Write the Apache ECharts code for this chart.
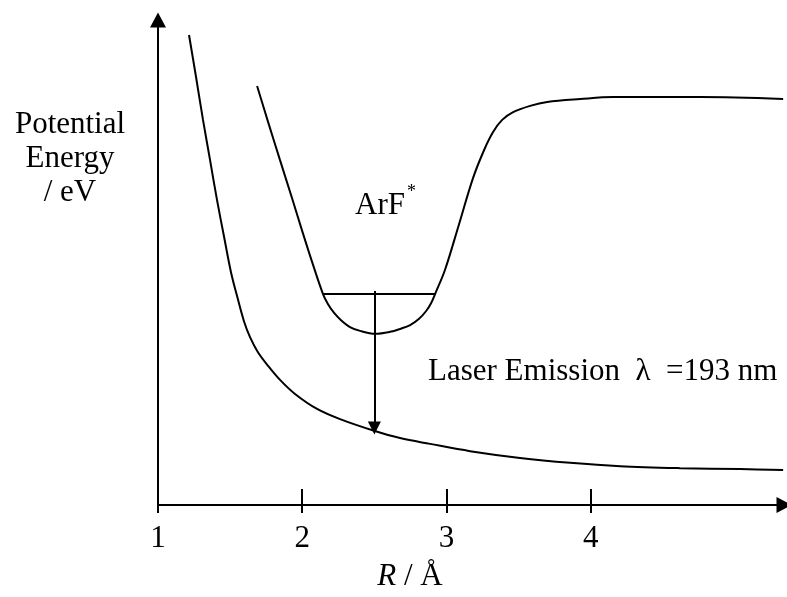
<!DOCTYPE html>
<html>
<head>
<meta charset="utf-8">
<title>ArF excimer potential energy curves</title>
<script src="https://cdn.jsdelivr.net/npm/echarts@6/dist/echarts.min.js"></script>
<style>
  html, body { margin: 0; padding: 0; background: #fff; }
  #chart { width: 787px; height: 597px; }
</style>
</head>
<body>
<div id="chart"></div>
<script>
// Internuclear distance R (Å) and potential energy (arbitrary eV scale)
const groundR = [1.215, 1.264, 1.312, 1.361, 1.409, 1.458, 1.506, 1.555, 1.596, 1.638, 1.693, 1.763, 1.846, 1.950, 2.103, 2.262, 2.498, 2.678, 2.886, 3.164, 3.510, 3.857, 4.204, 4.620, 5.036, 5.334];
const groundE = [9.69, 8.82, 7.94, 7.11, 6.29, 5.53, 4.80, 4.23, 3.79, 3.46, 3.15, 2.87, 2.58, 2.29, 1.98, 1.77, 1.53, 1.38, 1.26, 1.11, 0.97, 0.87, 0.80, 0.76, 0.74, 0.72];

const excitedR = [1.687, 1.763, 1.846, 1.929, 2.006, 2.075, 2.144, 2.179, 2.221, 2.269, 2.331, 2.401, 2.505, 2.609, 2.678, 2.748, 2.810, 2.859, 2.893, 2.921, 2.990, 3.087, 3.184, 3.261, 3.323, 3.386, 3.462, 3.580, 3.698, 3.927, 4.155, 4.759, 5.334];
const excitedE = [8.64, 7.90, 7.11, 6.33, 5.59, 4.95, 4.35, 4.14, 3.96, 3.81, 3.67, 3.59, 3.53, 3.57, 3.63, 3.71, 3.84, 4.00, 4.16, 4.35, 4.85, 5.79, 6.74, 7.32, 7.69, 7.94, 8.10, 8.23, 8.31, 8.37, 8.41, 8.41, 8.37];

// Vibrational level of ArF* and the emission transition
const levelR = [2.144, 2.921];
const levelE = [4.35, 4.35];
const emissionR = [2.5, 2.5];
const emissionE = [4.41, 1.59];

const tickValues = [1, 2, 3, 4];

const serif = "'Liberation Serif', 'Times New Roman', serif";
const ink = '#000';

const zip = (xs, ys) => xs.map((x, i) => [x, ys[i]]);

const chart = echarts.init(document.getElementById('chart'), null, { renderer: 'canvas' });

const curveStyle = { color: ink, width: 2 };

chart.setOption({
  backgroundColor: '#fff',
  animation: false,
  grid: { left: 158, right: 3, top: 20, bottom: 92, containLabel: false },
  xAxis: [
    {
      type: 'value', min: 1, max: 5.34, interval: 1,
      axisLine: { show: true, onZero: false, symbol: ['none', 'triangle'], symbolSize: [16, 15], lineStyle: { color: ink, width: 2 } },
      axisTick: { show: true, inside: true, length: 16, customValues: tickValues, lineStyle: { color: ink, width: 2 } },
      axisLabel: { show: true, customValues: tickValues, margin: 18, color: ink, fontFamily: serif, fontSize: 31 },
      splitLine: { show: false }
    },
    {
      type: 'value', min: 1, max: 5.34, interval: 1, position: 'bottom',
      axisLine: { show: false },
      axisTick: { show: true, inside: false, length: 8, customValues: tickValues, lineStyle: { color: ink, width: 2 } },
      axisLabel: { show: false },
      splitLine: { show: false }
    }
  ],
  yAxis: {
    type: 'value', min: 0, max: 10,
    axisLine: { show: true, onZero: false, symbol: ['none', 'triangle'], symbolSize: [16, 15], lineStyle: { color: ink, width: 2 } },
    axisTick: { show: false },
    axisLabel: { show: false },
    splitLine: { show: false }
  },
  series: [
    {
      name: 'ArF ground state', type: 'line', smooth: 0.35, showSymbol: false,
      data: zip(groundR, groundE), lineStyle: curveStyle
    },
    {
      name: 'ArF*', type: 'line', smooth: 0.35, showSymbol: false,
      data: zip(excitedR, excitedE), lineStyle: curveStyle
    },
    {
      name: 'v = 0 level', type: 'line', showSymbol: false,
      data: zip(levelR, levelE), lineStyle: curveStyle
    },
    {
      name: 'Emission', type: 'lines', coordinateSystem: 'cartesian2d',
      symbol: ['none', 'triangle'], symbolSize: [15, 13],
      lineStyle: { color: ink, width: 2, opacity: 1 },
      data: [{ coords: zip(emissionR, emissionE) }]
    }
  ],
  graphic: [
    {
      type: 'text', x: 70, y: 159,
      style: {
        text: 'Potential\nEnergy\n/ eV', fill: ink, font: '31px ' + serif,
        align: 'center', verticalAlign: 'middle', lineHeight: 34
      }
    },
    {
      type: 'text', x: 355, y: 206,
      style: { text: 'ArF', fill: ink, font: '31px ' + serif, align: 'left', verticalAlign: 'middle' }
    },
    {
      type: 'text', x: 407, y: 192,
      style: { text: '*', fill: ink, font: '18px ' + serif, align: 'left', verticalAlign: 'middle' }
    },
    {
      type: 'text', x: 428, y: 372,
      style: { text: 'Laser Emission  λ  =193 nm', fill: ink, font: '31px ' + serif, align: 'left', verticalAlign: 'middle' }
    },
    {
      type: 'text', x: 410, y: 577,
      style: {
        text: '{i|R} / Å', fill: ink, font: '31px ' + serif, align: 'center', verticalAlign: 'middle',
        rich: { i: { fontStyle: 'italic', fontFamily: serif, fontSize: 31, fill: ink } }
      }
    }
  ]
});
</script>
</body>
</html>
